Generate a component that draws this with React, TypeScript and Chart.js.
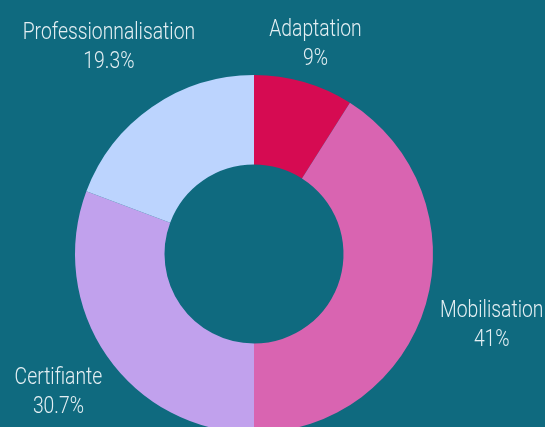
import React, { useEffect, useRef } from "react";
import { Chart, registerables } from "chart.js";

Chart.register(...registerables);

const categories = ["Adaptation", "Mobilisation", "Certifiante", "Professionnalisation"];
const values = [9, 41, 30.7, 19.3];
const valueLabels = ["9%", "41%", "30.7%", "19.3%"];
const colors = ["#d60b52", "#d964b1", "#c1a1ed", "#bcd4fe"];

const BG = "#0f6a7f";
const TEXT = "#e4eff3";
const FONT = "Roboto, 'DejaVu Sans', sans-serif";
const FONT_SIZE = 23;
const X_SCALE = 0.84;
const LINE_H = 29;
const CAP_H = 17;

const outLabels = {
  id: "outLabels",
  afterDatasetsDraw(chart: any) {
    const ctx = chart.ctx as CanvasRenderingContext2D;
    const meta = chart.getDatasetMeta(0);
    ctx.save();
    ctx.font = `300 ${FONT_SIZE}px ${FONT}`;
    ctx.fillStyle = TEXT;
    ctx.textAlign = "center";
    ctx.textBaseline = "alphabetic";
    meta.data.forEach((arc: any, i: number) => {
      const p = arc.getProps(["x", "y", "startAngle", "endAngle", "outerRadius"], true);
      const mid = (p.startAngle + p.endAngle) / 2;
      const vx = Math.cos(mid);
      const vy = Math.sin(mid);
      const lines = [categories[i], valueLabels[i]];
      const w = Math.max(...lines.map((l) => ctx.measureText(l).width)) * X_SCALE;
      const hw = w / 2;
      const hh = 14;
      const L = p.outerRadius + 15 + Math.abs(vx) * hw + Math.abs(vy) * hh;
      const cx = p.x + vx * L;
      const cy = p.y + vy * L;
      const top = cy - (LINE_H + CAP_H) / 2;
      lines.forEach((t, k) => {
        ctx.save();
        ctx.translate(cx, top + CAP_H + k * LINE_H);
        ctx.scale(X_SCALE, 1);
        ctx.fillText(t, 0, 0);
        ctx.restore();
      });
    });
    ctx.restore();
  },
};

export default function App() {
  const ref = useRef<HTMLCanvasElement>(null);
  useEffect(() => {
    if (!ref.current) return;
    const chart = new Chart(ref.current, {
      type: "doughnut",
      data: {
        labels: categories,
        datasets: [
          {
            data: values,
            backgroundColor: colors,
            borderWidth: 0,
          },
        ],
      },
      options: {
        animation: false,
        responsive: false,
        cutout: "50%",
        layout: { padding: { top: 75, bottom: 74, left: 75, right: 112 } },
        plugins: {
          legend: { display: false },
          tooltip: { enabled: false },
        },
      },
      plugins: [outLabels],
    });
    return () => chart.destroy();
  }, []);
  return (
    <div
      style={{
        position: "fixed",
        left: 0,
        top: 0,
        width: 545,
        height: 427,
        overflow: "hidden",
        background: BG,
      }}
    >
      <canvas ref={ref} width={545} height={507} style={{ display: "block" }} />
    </div>
  );
}
